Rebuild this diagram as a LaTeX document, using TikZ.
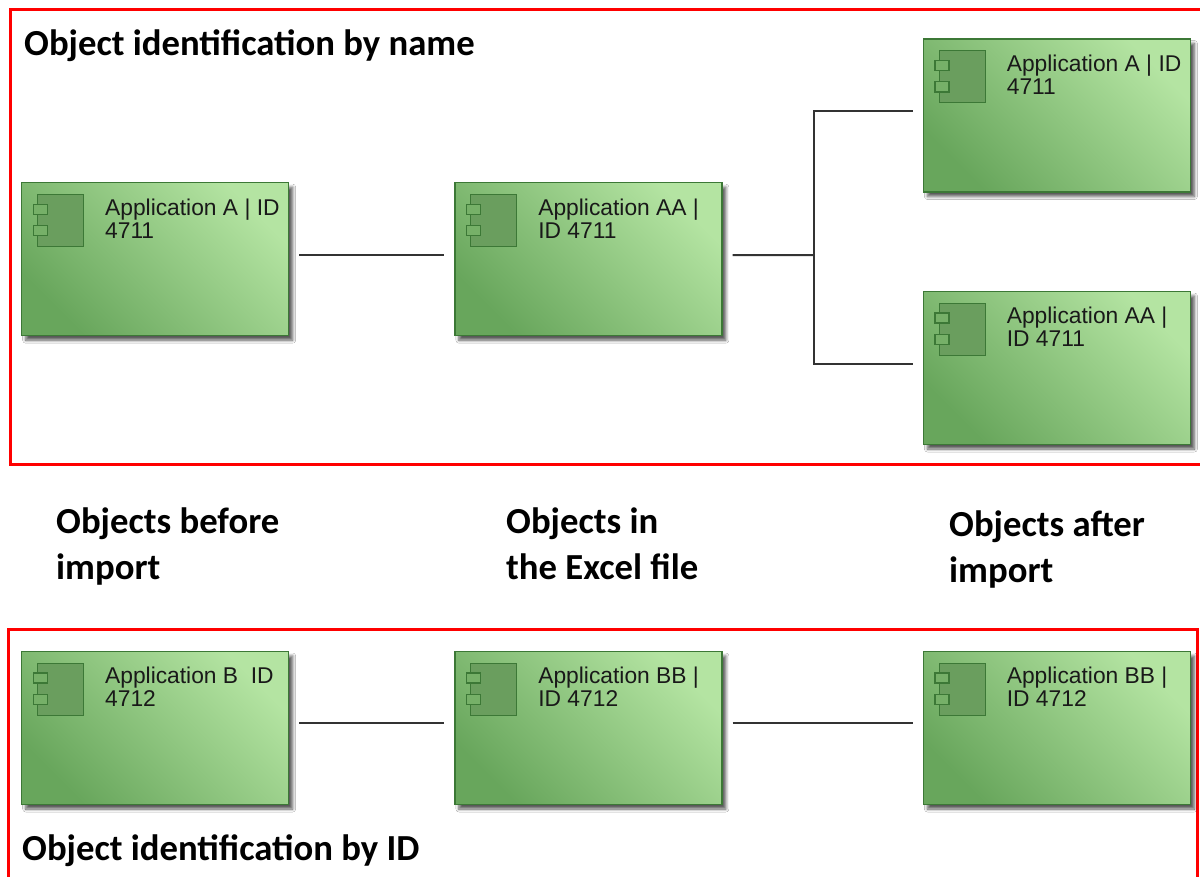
\documentclass[tikz,border=0pt]{standalone}
\usepackage{fontspec}
\setmainfont{Carlito}
\newfontfamily\boxfont{Liberation Sans}
\usetikzlibrary{shadows,shadows.blur}
\definecolor{redframe}{RGB}{255,0,0}
\definecolor{gLight}{RGB}{180,228,162}
\definecolor{gDark}{RGB}{104,166,92}
\definecolor{gBorder}{RGB}{60,120,54}
\definecolor{gIcon}{RGB}{106,158,94}
\definecolor{gPort}{RGB}{118,176,104}
\definecolor{lineGray}{RGB}{51,51,51}
\tikzset{
  comp/.style={rectangle, draw=gBorder, line width=1.5pt, minimum width=267pt,
    minimum height=153pt, inner sep=0pt, top color=gLight, bottom color=gDark,
    shading angle=-45,
    blur shadow={shadow xshift=4pt, shadow yshift=-4.5pt, shadow blur steps=6,
      shadow blur radius=3pt, shadow opacity=65}},
  iconbody/.style={draw=gBorder, line width=1.3pt, fill=gIcon},
  iconport/.style={draw=gBorder, line width=1.3pt, fill=gPort},
  ctext/.style={font=\boxfont\fontsize{22.8pt}{23pt}\selectfont, align=left,
    inner sep=0pt, text=black!90},
  head/.style={font=\bfseries\fontsize{36.7pt}{46pt}\selectfont, align=left,
    inner sep=0pt, text=black},
  conn/.style={draw=lineGray, line width=2pt},
  frame/.style={draw=redframe, line width=3pt}
}
\begin{document}
\begin{tikzpicture}[x=1pt,y=-1pt]
\useasboundingbox (0,0) rectangle (1200,876);
\clip (0,0) rectangle (1200,876);
\fill[white] (0,0) rectangle (1200,876);
% red frames
\draw[frame] (10.7,9) rectangle (1220,464);
\draw[frame] (8,629) rectangle (1197.7,895);
% components
\node[comp] (a1) at (155.2,259.2) {};
\node[comp] (a2) at (588.4,259.2) {};
\node[comp] (a3) at (1056.9,115.5) {};
\node[comp] (a4) at (1056.9,368) {};
\node[comp] (b1) at (155.2,728) {};
\node[comp] (b2) at (588.4,728) {};
\node[comp] (b3) at (1056.9,728) {};
\foreach \n in {a1,a2,a3,a4,b1,b2,b3}{
  \draw[iconbody] ([shift={(16.5pt,-12.5pt)}]\n.north west) rectangle ([shift={(62.5pt,-64.5pt)}]\n.north west);
  \draw[iconport] ([shift={(12.3pt,-22.3pt)}]\n.north west) rectangle ([shift={(26.3pt,-32.3pt)}]\n.north west);
  \draw[iconport] ([shift={(12.3pt,-43.5pt)}]\n.north west) rectangle ([shift={(26.3pt,-53.8pt)}]\n.north west);
}
\node[ctext, anchor=north west] (t1) at ([shift={(84pt,-16.5pt)}]a1.north west) {Application A | ID\\4711};
\node[ctext, anchor=north west] (t2) at ([shift={(84pt,-16.5pt)}]a2.north west) {Application AA |\\ID 4711};
\node[ctext, anchor=north west] (t3) at ([shift={(84pt,-16.5pt)}]a3.north west) {Application A | ID\\4711};
\node[ctext, anchor=north west] (t4) at ([shift={(84pt,-16.5pt)}]a4.north west) {Application AA |\\ID 4711};
\node[ctext, anchor=north west] (t5) at ([shift={(84pt,-16.5pt)}]b1.north west) {Application B \ ID\\4712};
\node[ctext, anchor=north west] (t6) at ([shift={(84pt,-16.5pt)}]b2.north west) {Application BB |\\ID 4712};
\node[ctext, anchor=north west] (t7) at ([shift={(84pt,-16.5pt)}]b3.north west) {Application BB |\\ID 4712};
% connectors
\coordinate (br) at (814,255);
\draw[conn] ([xshift=10pt,yshift=4pt]a1.east) -- ([xshift=-10pt,yshift=4pt]a2.west);
\draw[conn] ([xshift=10pt,yshift=4pt]a2.east) -- (br);
\draw[conn] ([xshift=-10pt,yshift=4.8pt]a3.west) -| (br) |- ([xshift=-10pt,yshift=4.3pt]a4.west);
\draw[conn] ([xshift=10pt,yshift=5pt]b1.east) -- ([xshift=-10pt,yshift=5pt]b2.west);
\draw[conn] ([xshift=10pt,yshift=5pt]b2.east) -- ([xshift=-10pt,yshift=5pt]b3.west);
% headings
\node[head, anchor=base west] (h1) at (24,55) {Object identification by name};
\node[head, anchor=base west] (h2) at (22,860) {Object identification by ID};
\node[head, anchor=north west] (l1) at (56,508) {Objects before\\import};
\node[head, anchor=north west] (l2) at (506,508) {Objects in\\the Excel file};
\node[head, anchor=north west] (l3) at (949,511) {Objects after\\import};
\end{tikzpicture}
\end{document}
